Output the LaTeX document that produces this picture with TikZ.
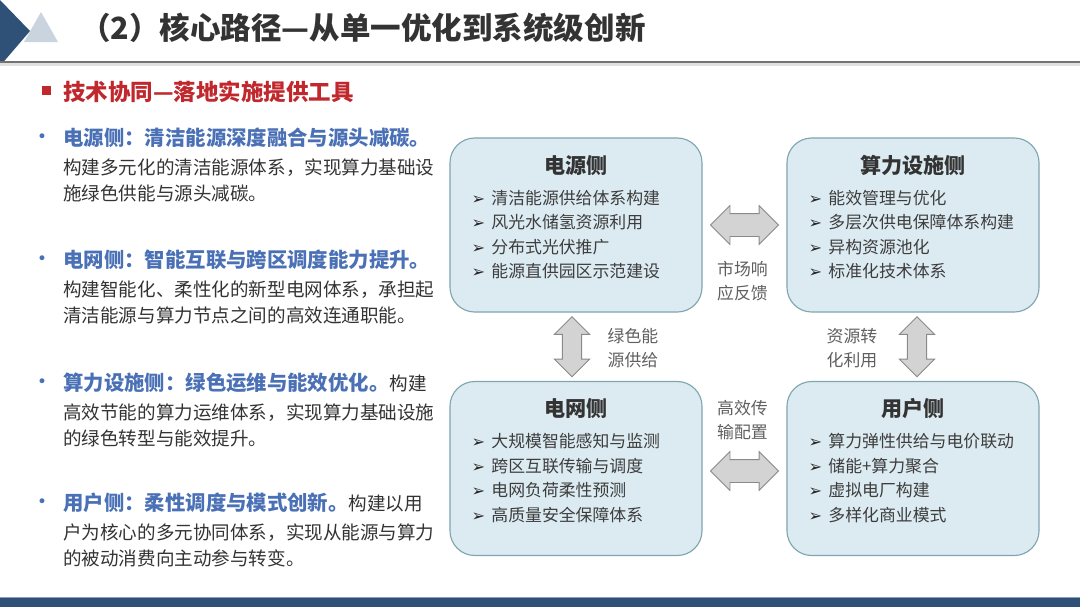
\documentclass[tikz,border=0pt]{standalone}
\usepackage{fontspec}
\setmainfont{Noto Sans CJK SC}
\newfontfamily\symfont{DejaVu Sans}
\usetikzlibrary{positioning,calc,shapes.arrows}

\definecolor{navy}{HTML}{2F5077}
\definecolor{decolight}{HTML}{CAD4DF}
\definecolor{headblue}{HTML}{4A70B5}
\definecolor{bodygray}{HTML}{333333}
\definecolor{titlered}{HTML}{C0282D}
\definecolor{boxfill}{HTML}{DCEBF1}
\definecolor{boxline}{HTML}{7FA5AE}
\definecolor{arrfill}{HTML}{D3D3D3}
\definecolor{arrline}{HTML}{8A8A8A}
\definecolor{labgray}{HTML}{5F5F5F}

\newcommand{\itm}{\makebox[14pt][l]{\color{black!85}\symfont\fontsize{11.5}{10}\selectfont ➢}}

\begin{document}
\begin{tikzpicture}[x=0.025cm, y=-0.025cm,
    sidebox/.style={draw=boxline, fill=boxfill, line width=0.8pt,
        rounded corners=0.62cm, minimum width=6.3cm, minimum height=4.35cm},
    boxtitle/.style={font=\bfseries\fontsize{15}{18}\selectfont, text=bodygray},
    boxitems/.style={anchor=west, inner sep=0, align=left, text=bodygray!95,
        font=\fontsize{12}{17.4}\selectfont},
    flowarrow/.style={double arrow, draw=arrline, fill=arrfill, line width=0.6pt,
        double arrow head extend=0.2cm},
    flowlabel/.style={align=center, inner sep=0, text=labgray,
        font=\fontsize{12}{17}\selectfont},
    headline/.style={anchor=west, inner sep=0, text=headblue,
        font=\bfseries\fontsize{14.5}{18}\selectfont},
    bodytext/.style={anchor=west, inner sep=0, align=left, text=bodygray,
        font=\fontsize{13.2}{18.1}\selectfont},
    dot/.style={anchor=center, inner sep=0, text=headblue, font=\symfont\fontsize{12}{12}\selectfont}]

    \useasboundingbox (0,0) rectangle (1080,607);

    % header
    \fill[navy] (0,0) -- (30,31) -- (0,66) -- cycle;
    \fill[decolight] (24,42) -- (41,12) -- (58,42) -- cycle;
    \draw[black!12, line width=1.5pt] (0,64.5) -- (1080,64.5);
    \draw[black!55, line width=1.2pt] (0,62) -- (1080,62);
    \node[anchor=west, inner sep=0, text=black!80, font=\bfseries\fontsize{21.7}{24}\selectfont]
        (title) at (80,28) {（2）核心路径—从单一优化到系统级创新};

    \fill[titlered] (42,86) rectangle (51,95);
    \node[anchor=west, inner sep=0, text=titlered, font=\bfseries\fontsize{16}{18}\selectfont]
        (subtitle) at (63,92) {技术协同—落地实施提供工具};

    % left column
    \node[dot] (d1) at (42,138) {•};
    \node[headline] (h1) at (63,138) {电源侧：清洁能源深度融合与源头减碳。};
    \node[bodytext] (b1) at (63,180.5) {构建多元化的清洁能源体系，实现算力基础设\\施绿色供能与源头减碳。};

    \node[dot] (d2) at (42,260) {•};
    \node[headline] (h2) at (63,260) {电网侧：智能互联与跨区调度能力提升。};
    \node[bodytext] (b2) at (63,302.5) {构建智能化、柔性化的新型电网体系，承担起\\清洁能源与算力节点之间的高效连通职能。};

    \node[dot] (d3) at (42,383) {•};
    \node[headline] (h3) at (63,383) {算力设施侧：绿色运维与能效优化。{\mdseries\fontsize{13.2}{18}\selectfont\color{bodygray}构建}};
    \node[bodytext] (b3) at (63,425.5) {高效节能的算力运维体系，实现算力基础设施\\的绿色转型与能效提升。};

    \node[dot] (d4) at (42,503) {•};
    \node[headline] (h4) at (63,503) {用户侧：柔性调度与模式创新。{\mdseries\fontsize{13.2}{18}\selectfont\color{bodygray}构建以用}};
    \node[bodytext] (b4) at (63,545.5) {户为核心的多元协同体系，实现从能源与算力\\的被动消费向主动参与转变。};

    % four sides
    \node[sidebox] (pwr) at (576,225) {};
    \node[sidebox] (cmp) at (913,225) {};
    \node[sidebox] (grd) at (576,468.5) {};
    \node[sidebox] (usr) at (913,468.5) {};

    \node[boxtitle] (pwrt) at ($(pwr.north)+(0,28)$) {电源侧};
    \node[boxtitle] (cmpt) at ($(cmp.north)+(0,28)$) {算力设施侧};
    \node[boxtitle] (grdt) at ($(grd.north)+(0,28)$) {电网侧};
    \node[boxtitle] (usrt) at ($(usr.north)+(0,28)$) {用户侧};

    \node[boxitems] (pwri) at ($(pwr.north west)+(22,97)$)
        {\itm 清洁能源供给体系构建\\\itm 风光水储氢资源利用\\\itm 分布式光伏推广\\\itm 能源直供园区示范建设};
    \node[boxitems] (cmpi) at ($(cmp.north west)+(22,97)$)
        {\itm 能效管理与优化\\\itm 多层次供电保障体系构建\\\itm 异构资源池化\\\itm 标准化技术体系};
    \node[boxitems] (grdi) at ($(grd.north west)+(22,97)$)
        {\itm 大规模智能感知与监测\\\itm 跨区互联传输与调度\\\itm 电网负荷柔性预测\\\itm 高质量安全保障体系};
    \node[boxitems] (usri) at ($(usr.north west)+(22,97)$)
        {\itm 算力弹性供给与电价联动\\\itm 储能+算力聚合\\\itm 虚拟电厂构建\\\itm 多样化商业模式};

    % links between the sides
    \node[flowarrow, inner sep=0.275cm, minimum height=1.7cm] (mkt)
        at ($(pwr.east)!0.5!(cmp.west)$) {};
    \node[flowarrow, inner sep=0.275cm, minimum height=1.7cm] (trn)
        at ($(grd.east)!0.5!(usr.west)+(0,2.5)$) {};
    \node[flowarrow, inner sep=0.23cm, shape border rotate=90, minimum height=1.5cm] (grn)
        at ($(pwr.south)!0.5!(grd.north)+(-4,0)$) {};
    \node[flowarrow, inner sep=0.23cm, shape border rotate=90, minimum height=1.5cm] (res)
        at ($(cmp.south)!0.5!(usr.north)+(4,0)$) {};

    \node[flowlabel] (mktl) at ($(mkt)+(-2,56)$) {市场响\\应反馈};
    \node[flowlabel] (trnl) at ($(trn)+(-2,-51)$) {高效传\\输配置};
    \node[flowlabel] (grnl) at ($(grn)+(61,1.5)$) {绿色能\\源供给};
    \node[flowlabel] (resl) at ($(res)+(-65,1.5)$) {资源转\\化利用};

    % footer
    \fill[navy] (0,597) rectangle (1080,607);
    \draw[navy!55!white, line width=0.6pt] (0,597) -- (1080,597);
\end{tikzpicture}
\end{document}
